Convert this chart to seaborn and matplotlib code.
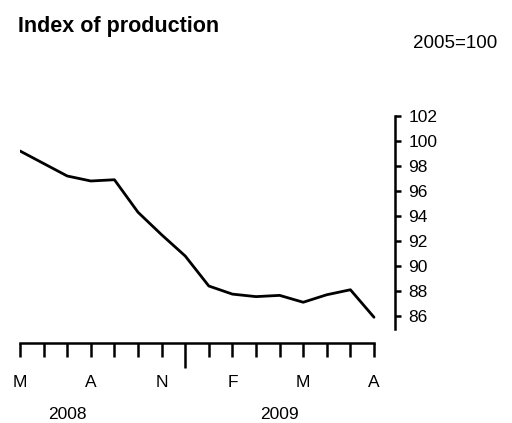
import numpy as np
import pandas as pd
import seaborn as sns
import matplotlib
matplotlib.use("Agg")
import matplotlib.pyplot as plt
import matplotlib.transforms as mtransforms

# monthly index, May 2008 - Aug 2009
months = ["May 08", "Jun 08", "Jul 08", "Aug 08", "Sep 08", "Oct 08", "Nov 08", "Dec 08",
          "Jan 09", "Feb 09", "Mar 09", "Apr 09", "May 09", "Jun 09", "Jul 09", "Aug 09"]
index_values = [99.2, 98.2, 97.2, 96.8, 96.9, 94.3, 92.5, 90.8,
                88.4, 87.75, 87.55, 87.65, 87.1, 87.7, 88.1, 85.9]
tick_labels = ["M", "", "", "A", "", "", "N", "", "", "F", "", "", "M", "", "", "A"]
year_labels = ["2008", "2009"]
year_pos = [2, 11]
y_ticks = [86, 88, 90, 92, 94, 96, 98, 100, 102]

sns.set_style("white")
plt.rcParams["font.family"] = ["Liberation Sans", "DejaVu Sans"]
plt.rcParams["text.color"] = "black"
plt.rcParams["xtick.color"] = "black"
plt.rcParams["ytick.color"] = "black"

df = pd.DataFrame({"pos": np.arange(len(months)), "value": index_values})

fig = plt.figure(figsize=(5.12, 4.23), dpi=100)
ax = fig.add_axes([0.0391, 0.2234, 0.7324, 0.5024])

sns.lineplot(data=df, x="pos", y="value", color="black", linewidth=2.0, ax=ax)

ax.set_xlim(0, 15.89)
ax.set_ylim(85, 102)
ax.set_xlabel("")
ax.set_ylabel("")

for side in ["top", "left"]:
    ax.spines[side].set_visible(False)
ax.spines["right"].set_linewidth(1.8)
ax.spines["right"].set_color("black")
ax.spines["right"].set_bounds(85, 102)
ax.spines["bottom"].set_linewidth(1.8)
ax.spines["bottom"].set_color("black")
ax.spines["bottom"].set_position(("outward", 10.4))
ax.spines["bottom"].set_bounds(0, 15)

ax.yaxis.tick_right()
ax.set_yticks(y_ticks)
ax.set_yticklabels([str(v) for v in y_ticks])
ax.tick_params(axis="y", direction="out", length=4.5, width=1.8, pad=5,
               labelsize=12.5, colors="black", right=True, left=False)

ax.set_xticks(df["pos"])
ax.set_xticklabels(tick_labels)
ax.tick_params(axis="x", direction="out", length=10, width=1.8, pad=13,
               labelsize=12.5, colors="black", bottom=True)
ax.xaxis.get_major_ticks()[7].tick1line.set_markersize(18)

trans = mtransforms.blended_transform_factory(ax.transData, fig.transFigure)
for lab, p in zip(year_labels, year_pos):
    ax.text(p, 0.020, lab, transform=trans, ha="center", va="center",
            fontsize=12.5, color="black")

fig.text(0.035, 0.925, "Index of production", ha="left", va="baseline",
         fontsize=15.5, fontweight="bold", color="black")
fig.text(0.971, 0.8865, "2005=100", ha="right", va="baseline",
         fontsize=13.5, color="black")

fig.savefig("out.png", dpi=100)
